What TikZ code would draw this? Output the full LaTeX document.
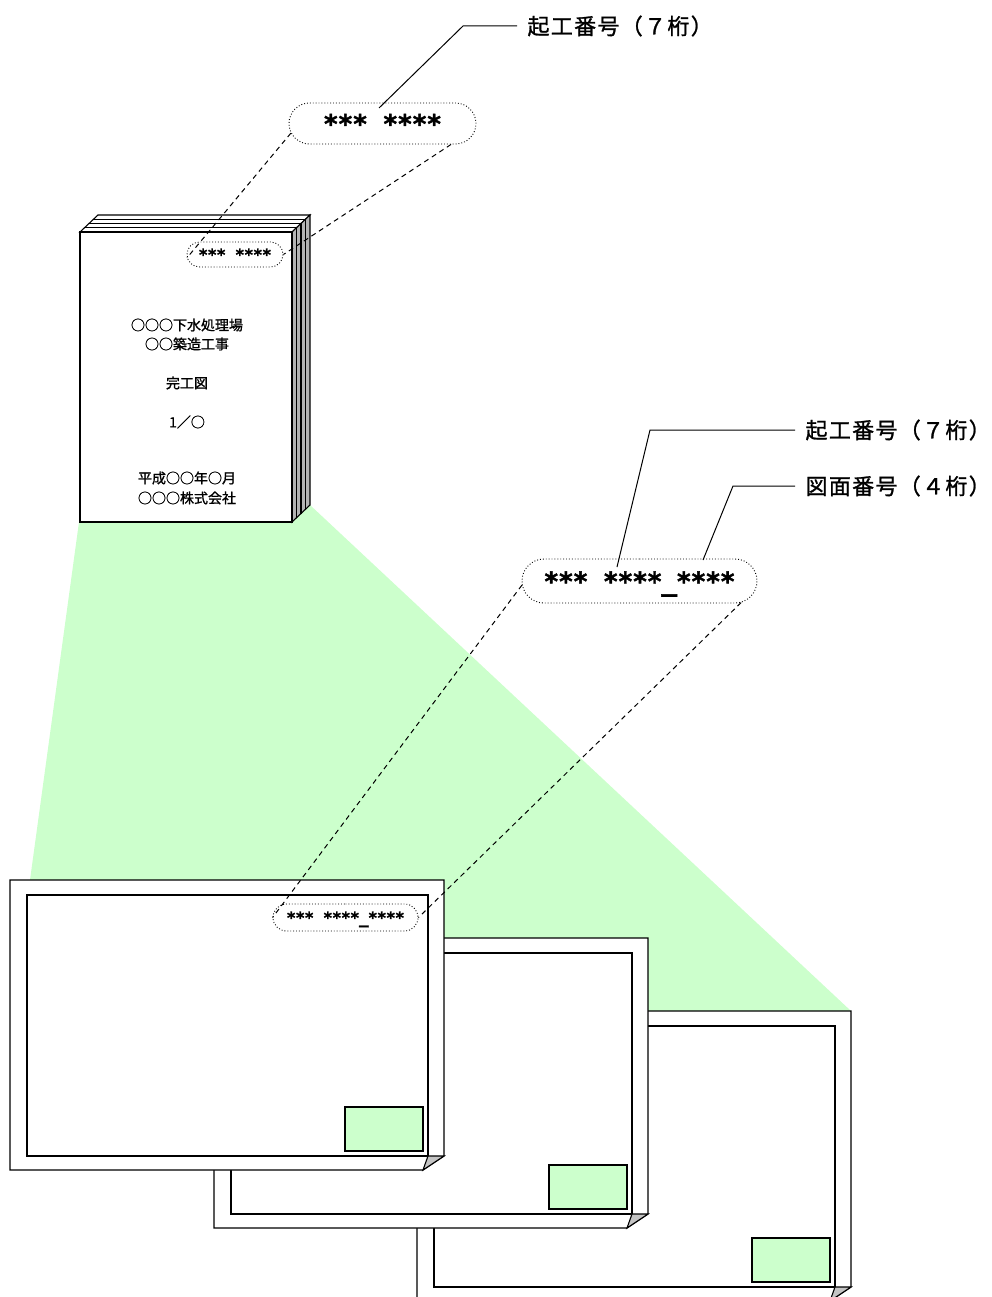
\documentclass[tikz,border=0pt]{standalone}
\usepackage{fontspec}
\setmainfont{Noto Sans CJK JP}
\newfontfamily\astfont{DejaVu Sans Mono}[LetterSpace=-4,FakeBold=1.5]
\newfontfamily\tagfont{Noto Sans CJK JP}[LetterSpace=6,FakeBold=1.2]
\newfontfamily\coverfont{Noto Sans CJK JP}[FakeBold=1]
\usetikzlibrary{shapes.misc}
\definecolor{zonegreen}{HTML}{CCFFCC}
\definecolor{curlgray}{HTML}{C4C4C4}
\definecolor{edgegray}{HTML}{B4B4B4}

\begin{document}
\begin{tikzpicture}[x=1pt,y=-1pt,line width=1.1pt,
  bubble/.style={draw,dotted,line width=0.9pt,rounded rectangle,inner sep=0pt,text depth=0pt},
  bigstars/.style={font=\astfont\bfseries\fontsize{26}{26}\selectfont},
  smallstars/.style={font=\astfont\bfseries\fontsize{16}{16}\selectfont},
  guide/.style={dash pattern=on 5pt off 4pt,line width=1pt},
  leader/.style={line width=1pt,shorten >=10pt},
  tag/.style={anchor=west,inner sep=0pt,font=\tagfont\fontsize{22}{26}\selectfont},
  cover/.style={font=\coverfont\fontsize{14}{17}\selectfont}]

\useasboundingbox(0,0)rectangle(992,1297);

% zoomed area
\fill[zonegreen](79,522)--(30,880)--(30,1011)--(851,1011)--(310,505)--cycle;

% booklet
\draw[fill=white](80,232)--(98,215)--(310,215)--(292,232)--cycle;
\draw[fill=edgegray](292,232)--(310,215)--(310,505)--(292,522)--cycle;
\foreach \k in {1,2,3}
	\draw(80+4.5*\k,232-4.25*\k)--(292+4.5*\k,232-4.25*\k)--(292+4.5*\k,522-4.25*\k);
\draw[fill=white](80,232)rectangle(292,522);

\node[cover] (cv1) at (187,325) {○○○下水処理場};
\node[cover] (cv2) at (187,344) {○○築造工事};
\node[cover] (cv3) at (187,383) {完工図};
\node[cover] (cv4) at (187,422) {1／○};
\node[cover] (cv5) at (187,478) {平成○○年○月};
\node[cover] (cv6) at (187,498) {○○○株式会社};

% sheets, back to front
\foreach \x/\y in {417/1011,214/938,10/880}{
	\draw[fill=white](\x,\y)--++(434,0)--++(0,276)--++(-21,14)--++(-413,0)--cycle;
	\draw(\x+17,\y+15)rectangle(\x+418,\y+276);
	\draw[fill=curlgray](\x+418,\y+276)--(\x+434,\y+276)--(\x+413,\y+290)--cycle;
	\draw[fill=zonegreen](\x+335,\y+227)rectangle(\x+413,\y+271);
}

% numbers
\node[bubble,bigstars,minimum width=187pt,minimum height=41pt] (numA) at (382.5,123.5) {*** ****};
\node[bubble,smallstars,minimum width=96pt,minimum height=25pt] (numS) at (235,254.5) {*** ****};
\node[bubble,bigstars,minimum width=235pt,minimum height=44pt] (numB) at (639.5,581) {*** ****\_****};
\node[bubble,smallstars,minimum width=145pt,minimum height=27pt] (numC) at (345.5,917.5) {*** ****\_****};

\draw[guide](numA.186)--(numS.184);
\draw[guide](numA.343)--(numS.east);
\draw[guide](numB.182)--(numC.west);
\draw[guide](numB.348)--(numC.east);

% leaders
\node[tag] (digA) at (527,26) {起工番号（７桁）};
\node[tag] (digB) at (805,430) {起工番号（７桁）};
\node[tag] (digC) at (805,486) {図面番号（４桁）};
\coordinate (kA) at (379,108);
\coordinate (bendA) at (463,26);
\coordinate (kB) at (617,567);
\coordinate (bendB) at (650,430);
\coordinate (kC) at (703,560);
\coordinate (bendC) at (733,486);
\draw[leader](kA)--(bendA)--(digA.west);
\draw[leader](kB)--(bendB)--(digB.west);
\draw[leader](kC)--(bendC)--(digC.west);

\end{tikzpicture}
\end{document}
